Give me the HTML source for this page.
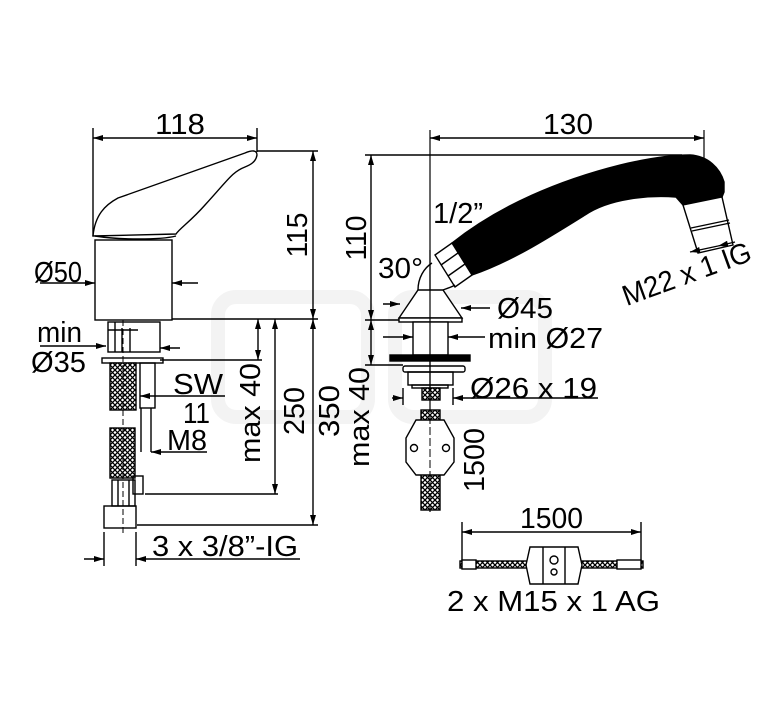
<!DOCTYPE html>
<html><head><meta charset="utf-8"><style>
html,body{margin:0;padding:0;background:#fff}
svg{display:block}
text{font-family:"Liberation Sans",Arial,sans-serif;fill:#000}
</style></head><body>
<svg width="767" height="709" viewBox="0 0 767 709" xmlns="http://www.w3.org/2000/svg">
<defs>
<marker id="a" viewBox="0 0 10 6" refX="10" refY="3" markerWidth="11" markerHeight="6" orient="auto-start-reverse" markerUnits="userSpaceOnUse"><path d="M0,0L10,3L0,6z" fill="#000"/></marker>
<pattern id="h" width="5" height="5" patternUnits="userSpaceOnUse"><rect width="5" height="5" fill="#fff"/><path d="M0,5L5,0M-1,1L1,-1M4,6L6,4M0,0L5,5" stroke="#000" stroke-width="1.3"/></pattern>
</defs>
<g fill="none" stroke="#f3f3f3" stroke-width="14">
<rect x="218" y="297" width="150" height="120" rx="18"/>
<rect x="395" y="297" width="150" height="120" rx="18"/>
</g>
<g stroke="#000" stroke-width="1.4" fill="none">
<line x1="93" y1="128" x2="93" y2="236"/>
<line x1="257" y1="128" x2="257" y2="152"/>
<line x1="93" y1="138" x2="257" y2="138" marker-start="url(#a)" marker-end="url(#a)"/>
<path d="M93,236 C95,215 105,205 118,198 L245,153 C252,150 257,150 257,155 C256,162 250,165 245,167 C232,172 228,180 205,205 C190,222 180,228 176,234 Z" fill="#fff"/>
<path d="M95,236 C120,240 160,240 176,236"/>
<rect x="95" y="240" width="77" height="80" fill="#fff"/>
<line x1="257" y1="151" x2="318" y2="151"/>
<line x1="313" y1="151" x2="313" y2="319" marker-start="url(#a)" marker-end="url(#a)"/>
<line x1="172" y1="319" x2="318" y2="319"/>
<line x1="40" y1="283" x2="95" y2="283" marker-end="url(#a)"/>
<line x1="198" y1="283" x2="172" y2="283" marker-end="url(#a)"/>
<rect x="108" y="322" width="52" height="30"/>
<line x1="115" y1="322" x2="115" y2="352"/><line x1="122" y1="328" x2="122" y2="352"/><line x1="130" y1="328" x2="130" y2="352"/>
<line x1="108" y1="330" x2="138" y2="330"/>
<rect x="102" y="358" width="61" height="5"/>
<rect x="110" y="363" width="26" height="47" fill="url(#h)"/>
<rect x="140" y="363" width="15" height="45"/>
<line x1="141" y1="408" x2="141" y2="452"/><line x1="151" y1="408" x2="151" y2="452"/>
<rect x="110" y="428" width="25" height="50" fill="url(#h)"/>
<rect x="133" y="476" width="10" height="18"/>
<rect x="112" y="480" width="23" height="26"/>
<line x1="118" y1="480" x2="118" y2="506"/><line x1="129" y1="480" x2="129" y2="506"/>
<rect x="104" y="506" width="32" height="22"/>
<line x1="123" y1="320" x2="123" y2="535" stroke-dasharray="6,3" stroke-width="1"/>
<line x1="40" y1="346" x2="106" y2="346" marker-end="url(#a)"/>
<line x1="180" y1="348" x2="160" y2="348" marker-end="url(#a)"/>
<line x1="225" y1="396" x2="140" y2="396" marker-end="url(#a)"/>
<line x1="207" y1="452" x2="151" y2="452" marker-end="url(#a)"/>
<line x1="160" y1="360" x2="262" y2="360"/>
<line x1="258" y1="319" x2="258" y2="360" marker-start="url(#a)" marker-end="url(#a)"/>
<line x1="275" y1="319" x2="275" y2="494" marker-start="url(#a)" marker-end="url(#a)"/>
<line x1="145" y1="494" x2="278" y2="494"/>
<line x1="313" y1="319" x2="313" y2="525" marker-start="url(#a)" marker-end="url(#a)"/>
<line x1="137" y1="525" x2="318" y2="525"/>
<line x1="104" y1="532" x2="104" y2="566"/><line x1="136" y1="532" x2="136" y2="566"/>
<line x1="84" y1="559" x2="104" y2="559" marker-end="url(#a)"/>
<line x1="300" y1="559" x2="136" y2="559" marker-end="url(#a)"/>

<line x1="430" y1="130" x2="430" y2="512" stroke-width="1.2"/>
<line x1="704" y1="130" x2="704" y2="245" stroke-width="1.2"/>
<line x1="430" y1="138" x2="704" y2="138" marker-start="url(#a)" marker-end="url(#a)"/>
<line x1="365" y1="155" x2="682" y2="155"/>
<line x1="371" y1="155" x2="371" y2="320" marker-start="url(#a)" marker-end="url(#a)"/>
<line x1="365" y1="320" x2="400" y2="320"/>
<line x1="371" y1="320" x2="371" y2="365" marker-start="url(#a)" marker-end="url(#a)"/>
<line x1="365" y1="365" x2="403" y2="365"/>
<path d="M452,243 C500,205 560,180 620,165 C650,158 672,155 690,155 C708,156 720,168 724,182 L724,192 L722,197 L683,205 L676,197 C650,195 610,198 585,215 C545,240 510,262 472,275 Z" fill="#000"/>
<path d="M683,205 L722,197 L733,245 L698,253 Z" fill="#fff"/>
<line x1="691" y1="228" x2="729" y2="220"/><line x1="692" y1="231" x2="730" y2="223"/>
<line x1="690" y1="252" x2="718" y2="246" marker-start="url(#a)"/>
<line x1="735" y1="242" x2="718" y2="246" marker-end="url(#a)"/>
<path d="M435,255 L452,243 L472,275 L455,287 Z" fill="#fff"/>
<line x1="441" y1="265" x2="458" y2="253"/><line x1="448" y1="276" x2="465" y2="264"/>
<path d="M418,290 C418,278 424,268 432,263"/>
<path d="M443,290 C448,288 452,287 455,285"/>
<path d="M418,290 L443,290 L462,318 L399,318 Z" fill="#fff"/>
<rect x="399" y="318" width="63" height="4" fill="#fff"/>
<rect x="413" y="322" width="35" height="33" fill="#fff"/>
<rect x="390" y="355" width="80" height="6" fill="#000"/>
<rect x="403" y="366" width="62" height="6" rx="2"/>
<rect x="408" y="372" width="45" height="13"/>
<rect x="412" y="385" width="36" height="3"/>
<rect x="422" y="388" width="18" height="12" fill="url(#h)"/>
<line x1="430" y1="250" x2="430" y2="400" stroke-width="1.2"/>
<line x1="383" y1="304" x2="400" y2="304" marker-end="url(#a)"/>
<line x1="490" y1="308" x2="461" y2="308" marker-end="url(#a)"/>
<line x1="383" y1="337" x2="413" y2="337" marker-end="url(#a)"/>
<line x1="485" y1="337" x2="448" y2="337" marker-end="url(#a)"/>
<line x1="403" y1="388" x2="403" y2="405"/><line x1="453" y1="388" x2="453" y2="405"/>
<line x1="392" y1="398" x2="403" y2="398" marker-end="url(#a)"/>
<line x1="598" y1="398" x2="453" y2="398" marker-end="url(#a)"/>
<rect x="421" y="410" width="19" height="100" fill="url(#h)"/>
<path d="M416,420 L444,420 L454,438 L454,462 L444,475 L416,475 L406,462 L406,438 Z" fill="#fff"/>
<circle cx="414" cy="448" r="3.5"/><circle cx="446" cy="448" r="3.5"/>
<line x1="430" y1="405" x2="430" y2="512" stroke-dasharray="8,3" stroke-width="1"/>
<line x1="462" y1="522" x2="462" y2="565"/><line x1="641" y1="522" x2="641" y2="565"/>
<line x1="462" y1="532" x2="641" y2="532" marker-start="url(#a)" marker-end="url(#a)"/>
<rect x="460" y="561" width="183" height="7" fill="url(#h)"/>
<rect x="462" y="560" width="14" height="9" fill="#fff"/><rect x="617" y="560" width="24" height="9" fill="#fff"/>
<path d="M530,547 L578,547 L582,565 L578,584 L530,584 L526,565 Z" fill="#fff"/>
<line x1="543" y1="547" x2="543" y2="584"/><line x1="565" y1="547" x2="565" y2="584"/>
<circle cx="554" cy="560" r="4"/><circle cx="554" cy="572" r="3"/>
</g>
<g font-size="29">
<text x="155" y="134" textLength="50" lengthAdjust="spacingAndGlyphs">118</text>
<text x="34" y="282" textLength="48" lengthAdjust="spacingAndGlyphs">Ø50</text>
<text x="37" y="342" textLength="45" lengthAdjust="spacingAndGlyphs">min</text>
<text x="31" y="372" textLength="55" lengthAdjust="spacingAndGlyphs">Ø35</text>
<text x="173" y="394" textLength="50" lengthAdjust="spacingAndGlyphs">SW</text>
<text x="183" y="423" textLength="27" lengthAdjust="spacingAndGlyphs">11</text>
<text x="167" y="450" textLength="40" lengthAdjust="spacingAndGlyphs">M8</text>
<text x="152" y="556" textLength="146" lengthAdjust="spacingAndGlyphs">3 x 3/8”-IG</text>
<text transform="translate(307,235) rotate(-90)" text-anchor="middle" textLength="45" lengthAdjust="spacingAndGlyphs">115</text>
<text transform="translate(260,413) rotate(-90)" text-anchor="middle" textLength="100" lengthAdjust="spacingAndGlyphs">max 40</text>
<text transform="translate(304,411) rotate(-90)" text-anchor="middle" textLength="48" lengthAdjust="spacingAndGlyphs">250</text>
<text transform="translate(339,411) rotate(-90)" text-anchor="middle" textLength="52" lengthAdjust="spacingAndGlyphs">350</text>
<text x="543" y="134" textLength="50" lengthAdjust="spacingAndGlyphs">130</text>
<text transform="translate(366,238) rotate(-90)" text-anchor="middle" textLength="45" lengthAdjust="spacingAndGlyphs">110</text>
<text transform="translate(369,417) rotate(-90)" text-anchor="middle" textLength="100" lengthAdjust="spacingAndGlyphs">max 40</text>
<text x="433" y="223" textLength="50" lengthAdjust="spacingAndGlyphs">1/2”</text>
<text x="378" y="278" textLength="45" lengthAdjust="spacingAndGlyphs">30°</text>
<text x="497" y="318" textLength="56" lengthAdjust="spacingAndGlyphs">Ø45</text>
<text x="488" y="348" textLength="115" lengthAdjust="spacingAndGlyphs">min Ø27</text>
<text x="470" y="398" textLength="127" lengthAdjust="spacingAndGlyphs">Ø26 x 19</text>
<text transform="translate(484,460) rotate(-90)" text-anchor="middle" textLength="64" lengthAdjust="spacingAndGlyphs">1500</text>
<text x="520" y="528" textLength="63" lengthAdjust="spacingAndGlyphs">1500</text>
<text x="447" y="611" textLength="213" lengthAdjust="spacingAndGlyphs">2 x M15 x 1 AG</text>
<text transform="translate(690,283) rotate(-20)" text-anchor="middle" textLength="135" lengthAdjust="spacingAndGlyphs">M22 x 1 IG</text>
</g>
</svg>
</body></html>
